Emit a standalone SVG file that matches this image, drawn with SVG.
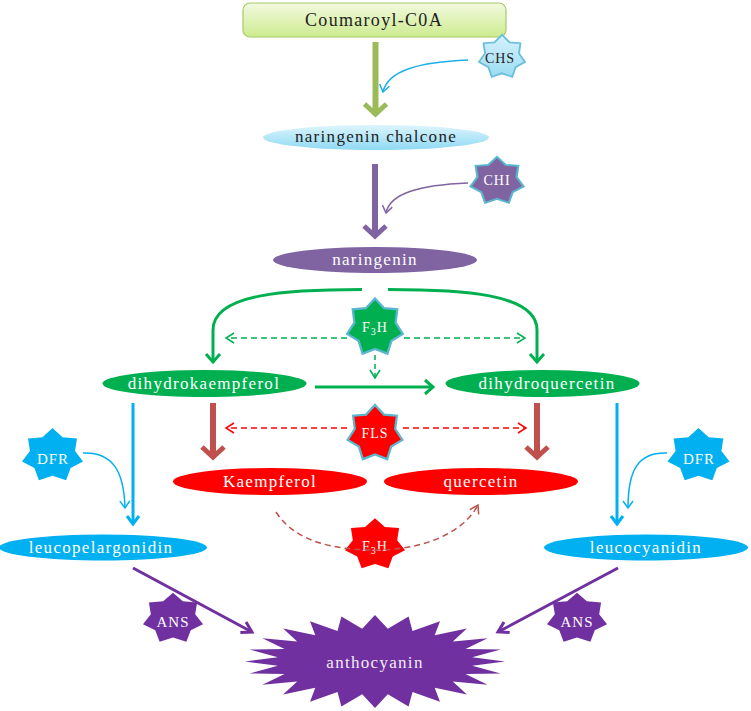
<svg xmlns="http://www.w3.org/2000/svg" xmlns:xlink="http://www.w3.org/1999/xlink" width="751" height="711" viewBox="0 0 751 711">
<style>
text{text-anchor:middle;font-family:'Liberation Serif',serif}
.t{font-size:17px;letter-spacing:1.3px;fill:#fff}
.td{font-size:17px;letter-spacing:1.3px;fill:#222}
.e{font-size:15px;letter-spacing:1px;fill:#fff}
.ed{font-size:15px;letter-spacing:1px;fill:#222}
.c{fill:none;stroke-linecap:butt}
</style>
<defs>
<linearGradient id="gBox" x1="0" y1="0" x2="0" y2="1"><stop offset="0" stop-color="#f2fadf"/><stop offset="1" stop-color="#cdeb8f"/></linearGradient>
<linearGradient id="gChal" x1="0" y1="0" x2="0" y2="1"><stop offset="0" stop-color="#dcf5fd"/><stop offset="1" stop-color="#8fd9f3"/></linearGradient>
<linearGradient id="gChs" x1="0" y1="0" x2="0" y2="1"><stop offset="0" stop-color="#d6f2fc"/><stop offset="1" stop-color="#9bdcf3"/></linearGradient>
<polygon id="star7" points="0,-10 3.2,-6.65 7.82,-6.24 7.2,-1.64 9.75,2.23 5.77,4.6 4.34,9.01 0,7.38 -4.34,9.01 -5.77,4.6 -9.75,2.23 -7.2,-1.64 -7.82,-6.24 -3.2,-6.65"/>
<marker id="aOlive" markerUnits="userSpaceOnUse" markerWidth="30" markerHeight="30" viewBox="-15 -15 30 30" refX="0" refY="0" orient="auto" overflow="visible"><path d="M-11,-11 L-1,0 L-11,11" fill="none" stroke="#9bbb59" stroke-width="5"/></marker>
<marker id="aPurp" markerUnits="userSpaceOnUse" markerWidth="30" markerHeight="30" viewBox="-15 -15 30 30" refX="0" refY="0" orient="auto" overflow="visible"><path d="M-11,-11 L-1,0 L-11,11" fill="none" stroke="#8064a2" stroke-width="5"/></marker>
<marker id="aBrown" markerUnits="userSpaceOnUse" markerWidth="30" markerHeight="30" viewBox="-15 -15 30 30" refX="0" refY="0" orient="auto" overflow="visible"><path d="M-11,-11 L-1,0 L-11,11" fill="none" stroke="#c0504d" stroke-width="5"/></marker>
<marker id="aGreen" markerUnits="userSpaceOnUse" markerWidth="20" markerHeight="20" viewBox="-10 -10 20 20" refX="0" refY="0" orient="auto" overflow="visible"><path d="M-8,-7 L0,0 L-8,7" fill="none" stroke="#00b050" stroke-width="3"/></marker>
<marker id="aBlue" markerUnits="userSpaceOnUse" markerWidth="20" markerHeight="20" viewBox="-10 -10 20 20" refX="0" refY="0" orient="auto" overflow="visible"><path d="M-8,-6 L0,0 L-8,6" fill="none" stroke="#00b0f0" stroke-width="3"/></marker>
<marker id="aDPurp" markerUnits="userSpaceOnUse" markerWidth="20" markerHeight="20" viewBox="-10 -10 20 20" refX="0" refY="0" orient="auto" overflow="visible"><path d="M-10,-6 L0,0 L-10,6" fill="none" stroke="#7030a0" stroke-width="3"/></marker>
<marker id="tBlue" markerUnits="userSpaceOnUse" markerWidth="14" markerHeight="14" viewBox="-7 -7 14 14" refX="0" refY="0" orient="auto" overflow="visible"><path d="M-7,-5 L0,0 L-7,5" fill="none" stroke="#1cb0e8" stroke-width="1.5"/></marker>
<marker id="tPurp" markerUnits="userSpaceOnUse" markerWidth="14" markerHeight="14" viewBox="-7 -7 14 14" refX="0" refY="0" orient="auto" overflow="visible"><path d="M-7,-5 L0,0 L-7,5" fill="none" stroke="#8064a2" stroke-width="1.5"/></marker>
<marker id="tSky" markerUnits="userSpaceOnUse" markerWidth="14" markerHeight="14" viewBox="-7 -7 14 14" refX="0" refY="0" orient="auto" overflow="visible"><path d="M-7,-5 L0,0 L-7,5" fill="none" stroke="#00b0f0" stroke-width="1.5"/></marker>
<marker id="dGreen" markerUnits="userSpaceOnUse" markerWidth="14" markerHeight="14" viewBox="-7 -7 14 14" refX="0" refY="0" orient="auto" overflow="visible"><path d="M-8,-5 L0,0 L-8,5" fill="none" stroke="#00b050" stroke-width="1.5"/></marker>
<marker id="dRed" markerUnits="userSpaceOnUse" markerWidth="14" markerHeight="14" viewBox="-7 -7 14 14" refX="0" refY="0" orient="auto" overflow="visible"><path d="M-8,-5 L0,0 L-8,5" fill="none" stroke="#ff0000" stroke-width="1.5"/></marker>
<marker id="dBrown" markerUnits="userSpaceOnUse" markerWidth="14" markerHeight="14" viewBox="-7 -7 14 14" refX="0" refY="0" orient="auto" overflow="visible"><path d="M-8,-5 L0,0 L-8,5" fill="none" stroke="#c0504d" stroke-width="1.5"/></marker>
</defs>

<g id="nodes">
<g id="coumaroyl">
<rect x="243" y="3" width="263" height="34" rx="7" fill="url(#gBox)" stroke="#a6c96a" stroke-width="1.2"/>
<text class="td" x="374" y="26" style="font-size:18px">Coumaroyl-C0A</text>
</g>
<g id="chs">
<use xlink:href="#star7" transform="translate(502,57) scale(2.36,2.21)" fill="url(#gChs)" stroke="#6bbfdc" stroke-width="0.8" vector-effect="non-scaling-stroke"/>
<text class="ed" x="500" y="63" style="font-size:14px">CHS</text>
</g>
<g id="chalcone">
<ellipse cx="376" cy="137.5" rx="113" ry="12.5" fill="url(#gChal)"/>
<text class="td" x="376" y="142">naringenin chalcone</text>
</g>
<g id="chi">
<use xlink:href="#star7" transform="translate(497,181) scale(2.72,2.42)" fill="#8064a2" stroke="#5ab6cf" stroke-width="0.8" vector-effect="non-scaling-stroke"/>
<text class="e" x="497" y="185" style="font-size:14px">CHI</text>
</g>
<g id="naringenin">
<ellipse cx="375" cy="260" rx="102" ry="13" fill="#8064a2"/>
<text class="t" x="375" y="265">naringenin</text>
</g>
<g id="f3h-green">
<use xlink:href="#star7" transform="translate(375,327.5) scale(2.85,2.9)" fill="#00b050" stroke="#5ab6cf" stroke-width="0.8" vector-effect="non-scaling-stroke"/>
<text class="e" x="375" y="332" style="font-size:14px">F<tspan font-size="10" dy="3">3</tspan><tspan dy="-3">H</tspan></text>
</g>
<g id="dihydrokaempferol">
<ellipse cx="204.5" cy="383.5" rx="102" ry="13.5" fill="#00b050"/>
<text class="t" x="204" y="389">dihydrokaempferol</text>
</g>
<g id="dihydroquercetin">
<ellipse cx="542.5" cy="383.5" rx="97" ry="13.5" fill="#00b050"/>
<text class="t" x="547" y="389">dihydroquercetin</text>
</g>
<g id="fls">
<use xlink:href="#star7" transform="translate(375,433.5) scale(2.8,2.85)" fill="#ff0000" stroke="#5ab6cf" stroke-width="0.8" vector-effect="non-scaling-stroke"/>
<text class="e" x="375" y="438" style="font-size:14px">FLS</text>
</g>
<g id="kaempferol">
<ellipse cx="270" cy="481.5" rx="97" ry="13.5" fill="#ff0000"/>
<text class="t" x="270" y="487">Kaempferol</text>
</g>
<g id="quercetin">
<ellipse cx="481" cy="481.5" rx="97" ry="13.5" fill="#ff0000"/>
<text class="t" x="481" y="487">quercetin</text>
</g>
<g id="dfr-left">
<use xlink:href="#star7" transform="translate(52.5,455.5) scale(3.13,2.74)" fill="#00b0f0"/>
<text class="e" x="53" y="464">DFR</text>
</g>
<g id="dfr-right">
<use xlink:href="#star7" transform="translate(698.5,455.5) scale(3.18,2.74)" fill="#00b0f0"/>
<text class="e" x="699" y="464">DFR</text>
</g>
<g id="f3h-red">
<use xlink:href="#star7" transform="translate(375,544.5) scale(3.08,2.63)" fill="#ff0000"/>
<text class="e" x="375" y="551" style="font-size:14px">F<tspan font-size="10" dy="3">3</tspan><tspan dy="-3">H</tspan></text>
</g>
<g id="leucopelargonidin">
<ellipse cx="103" cy="547.5" rx="104" ry="13" fill="#00b0f0"/>
<text class="t" x="101" y="553">leucopelargonidin</text>
</g>
<g id="leucocyanidin">
<ellipse cx="646" cy="547.5" rx="102" ry="13" fill="#00b0f0"/>
<text class="t" x="646" y="553">leucocyanidin</text>
</g>
<g id="ans-left">
<use xlink:href="#star7" transform="translate(173,618.5) scale(3.08,2.58)" fill="#7030a0"/>
<text class="e" x="173" y="627">ANS</text>
</g>
<g id="ans-right">
<use xlink:href="#star7" transform="translate(577,618.5) scale(3.08,2.58)" fill="#7030a0"/>
<text class="e" x="577" y="627">ANS</text>
</g>
<g id="anthocyanin">
<polygon fill="#7030a0" points="505,661.5 472.2,665.8 500.6,673.5 465.5,674.1 487.6,684.75 452.8,681.6 466.9,694.4 434.7,687.7 440,701.8 412.5,692 408.6,706.4 387.8,694.2 375,708 362.2,694.2 341.4,706.4 337.5,692 310,701.8 315.3,687.7 283.1,694.4 297.2,681.6 262.4,684.75 284.5,674.1 249.4,673.5 277.8,665.8 245,661.5 277.8,657.2 249.4,649.5 284.5,648.9 262.4,638.25 297.2,641.4 283.1,628.6 315.3,635.3 310,621.2 337.5,631 341.4,616.6 362.2,628.8 375,615 387.8,628.8 408.6,616.6 412.5,631 440,621.2 434.7,635.3 466.9,628.6 452.8,641.4 487.6,638.25 465.5,648.9 500.6,649.5 472.2,657.2"/>
<text class="t" x="375" y="668" style="fill:#f0ecf5">anthocyanin</text>
</g>
</g>

<g id="connectors" class="c">
<line x1="375.5" y1="42" x2="375.5" y2="115" stroke="#9bbb59" stroke-width="6" marker-end="url(#aOlive)"/>
<path d="M468,60 C420,62 388,70 383,92" fill="none" stroke="#1cb0e8" stroke-width="1.5" marker-end="url(#tBlue)"/>
<line x1="375" y1="164" x2="375" y2="237" stroke="#8064a2" stroke-width="6" marker-end="url(#aPurp)"/>
<path d="M468,183 C420,185 390,193 386,213" fill="none" stroke="#8064a2" stroke-width="1.5" marker-end="url(#tPurp)"/>
<path d="M362,289.5 C290,289.5 213,293 213,330 L213,362" fill="none" stroke="#00b050" stroke-width="3" marker-end="url(#aGreen)"/>
<path d="M388,289.5 C460,289.5 537,293 537,330 L537,362" fill="none" stroke="#00b050" stroke-width="3" marker-end="url(#aGreen)"/>
<line x1="347" y1="338" x2="226" y2="338" stroke="#00b050" stroke-width="1.5" stroke-dasharray="6,4" marker-end="url(#dGreen)"/>
<line x1="404" y1="338" x2="525" y2="338" stroke="#00b050" stroke-width="1.5" stroke-dasharray="6,4" marker-end="url(#dGreen)"/>
<line x1="375" y1="355" x2="375" y2="378" stroke="#00b050" stroke-width="1.5" stroke-dasharray="5,4" marker-end="url(#dGreen)"/>
<line x1="315" y1="387" x2="433" y2="387" stroke="#00b050" stroke-width="3" marker-end="url(#aGreen)"/>
<line x1="213" y1="403" x2="213" y2="458" stroke="#c0504d" stroke-width="6" marker-end="url(#aBrown)"/>
<line x1="537" y1="403" x2="537" y2="458" stroke="#c0504d" stroke-width="6" marker-end="url(#aBrown)"/>
<line x1="347" y1="428" x2="226" y2="428" stroke="#ff0000" stroke-width="1.5" stroke-dasharray="6,4" marker-end="url(#dRed)"/>
<line x1="403" y1="428" x2="526" y2="428" stroke="#ff0000" stroke-width="1.5" stroke-dasharray="6,4" marker-end="url(#dRed)"/>
<line x1="133" y1="403" x2="133" y2="524" stroke="#00b0f0" stroke-width="3" marker-end="url(#aBlue)"/>
<path d="M83,453 C112,452 124,470 125,508" fill="none" stroke="#00b0f0" stroke-width="1.5" marker-end="url(#tSky)"/>
<line x1="617" y1="403" x2="617" y2="524" stroke="#00b0f0" stroke-width="3" marker-end="url(#aBlue)"/>
<path d="M667,453 C638,452 628,470 628,508" fill="none" stroke="#00b0f0" stroke-width="1.5" marker-end="url(#tSky)"/>
<path d="M276,512 C295,542 335,550 375,550 C420,550 462,535 478,505" fill="none" stroke="#c0504d" stroke-width="1.5" stroke-dasharray="6,4" marker-end="url(#dBrown)"/>
<line x1="133" y1="568" x2="252" y2="632" stroke="#7030a0" stroke-width="3" marker-end="url(#aDPurp)"/>
<line x1="618" y1="568" x2="498" y2="632" stroke="#7030a0" stroke-width="3" marker-end="url(#aDPurp)"/>
</g>
</svg>
